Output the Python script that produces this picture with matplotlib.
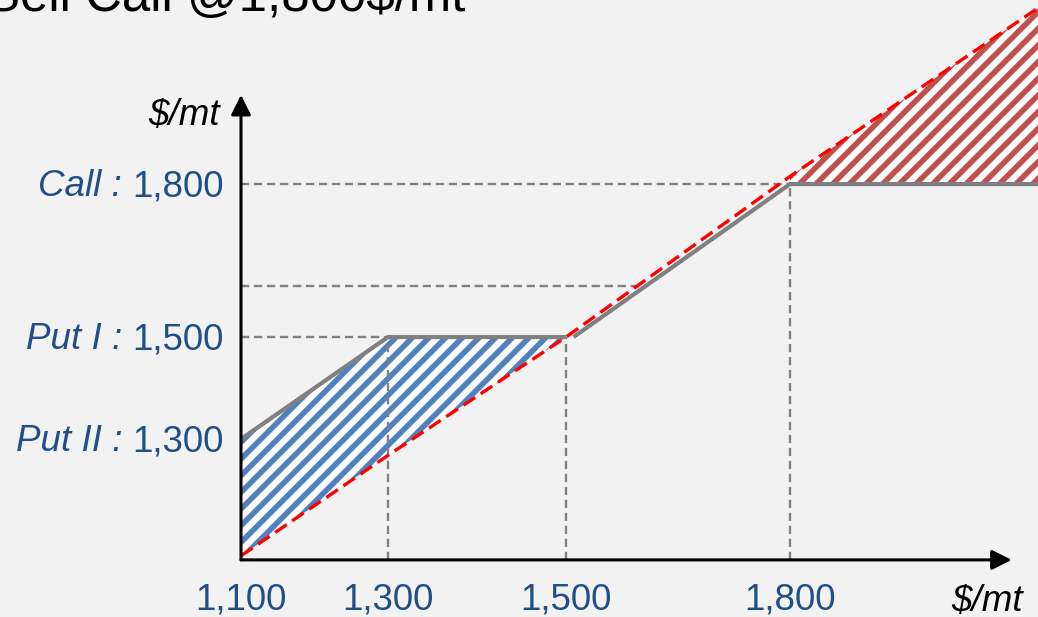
import numpy as np
import matplotlib
matplotlib.use("Agg")
import matplotlib.pyplot as plt

# Strike levels on the price axis and their labels
strikes = [1100, 1300, 1500, 1800]
strike_labels = ["1,100", "1,300", "1,500", "1,800"]
# Schematic spacing of the strikes along the horizontal axis
strike_pos = [241, 388, 566, 790]

# Levels named on the payoff axis
level_names = ["Call :", "Put I :", "Put II :"]
level_values = [1800, 1500, 1300]
level_texts = ["1,800", "1,500", "1,300"]

# Hedged price with the collar (solid grey), two pieces
hedge_low_x = [1100, 1300, 1500]
hedge_low_y = [1300, 1500, 1500]
hedge_high_x = [1510, 1800, 2140]
hedge_high_y = [1500, 1800, 1800]

# Unhedged market price (red dashed)
market_x = [1100, 1300, 1500, 1800, 2140]
market_y = [1071, 1268, 1500, 1815, 2153]

# Unlabelled reference level
mid_level = 1600

# Axis frame
origin_y = 1063
y_tip = 1975
x_tip = 2097

title = "Sell Call @1,800$/mt"
unit = "$/mt"

BG = "#F2F2F2"
GREY = "#808080"
RED = "#FF0000"
NAVY = "#1F4E89"
BLUE_HATCH = "#4F81BD"
RED_HATCH = "#C0504D"
FONT = "Liberation Sans"

plt.rcParams["hatch.linewidth"] = 4.0
plt.rcParams["font.family"] = [FONT, "DejaVu Sans"]


def _slopes():
    lo = (strike_pos[1] - strike_pos[0]) / (strikes[1] - strikes[0])
    hi = (strike_pos[-1] - strike_pos[-2]) / (strikes[-1] - strikes[-2])
    return lo, hi


def to_pos(v):
    v = np.asarray(v, dtype=float)
    lo, hi = _slopes()
    p = np.interp(v, strikes, strike_pos)
    p = np.where(v < strikes[0], strike_pos[0] + (v - strikes[0]) * lo, p)
    p = np.where(v > strikes[-1], strike_pos[-1] + (v - strikes[-1]) * hi, p)
    return p


def from_pos(p):
    p = np.asarray(p, dtype=float)
    lo, hi = _slopes()
    v = np.interp(p, strike_pos, strikes)
    v = np.where(p < strike_pos[0], strikes[0] + (p - strike_pos[0]) / lo, v)
    v = np.where(p > strike_pos[-1], strikes[-1] + (p - strike_pos[-1]) / hi, v)
    return v


W, H = 1038, 617
fig = plt.figure(figsize=(W / 100, H / 100), dpi=100, facecolor=BG)
ax = fig.add_axes([0, 0, 1, 1], facecolor=BG)
ax.set_xscale("function", functions=(to_pos, from_pos))
ax.set_xlim(float(from_pos(0)), float(from_pos(W)))
ax.set_ylim(951, 2161)
ax.axis("off")

# Hatched gain / give-up areas
lower_blue = np.interp(hedge_low_x, market_x, market_y)
ax.fill_between(hedge_low_x, lower_blue, hedge_low_y, facecolor="white",
                edgecolor=BLUE_HATCH, hatch="//", linewidth=0, zorder=1)
red_x = [strikes[-1], market_x[-1]]
ax.fill_between(red_x, [hedge_high_y[-1]] * 2, np.interp(red_x, market_x, market_y),
                facecolor="white", edgecolor=RED_HATCH, hatch="//",
                linewidth=0, zorder=1)

# Dashed guide lines
guide = dict(color=GREY, lw=1.7, linestyle=(0, (3.5, 2)), zorder=2)
ax.plot([strikes[0], strikes[3]], [level_values[0]] * 2, **guide)
ax.plot([strikes[0], mid_level], [mid_level] * 2, **guide)
ax.plot([strikes[0], strikes[1]], [level_values[1]] * 2, **guide)
for s, top in zip(strikes[1:], [1500, 1500, 1800]):
    ax.plot([s, s], [origin_y, top], **guide)

# Hedged price
ax.plot(hedge_low_x, hedge_low_y, color=GREY, lw=3, solid_capstyle="butt",
        solid_joinstyle="miter", zorder=3)
ax.plot(hedge_high_x, hedge_high_y, color=GREY, lw=3, solid_capstyle="butt",
        solid_joinstyle="miter", zorder=3)

# Market price
ax.plot(market_x, market_y, color=RED, lw=2.4, linestyle=(0, (4.2, 2.0)), zorder=4)

# Axes with arrow heads
arrow = dict(arrowstyle="-|>,head_length=0.6,head_width=0.3", color="black",
             lw=2.2, shrinkA=0, shrinkB=0, mutation_scale=20)
ax.annotate("", xy=(strikes[0], y_tip), xytext=(strikes[0], origin_y),
            arrowprops=arrow, zorder=5)
ax.annotate("", xy=(x_tip, origin_y), xytext=(strikes[0], origin_y),
            arrowprops=arrow, zorder=5)

# Strike labels under the horizontal axis
for s, lab in zip(strikes, strike_labels):
    ax.annotate(lab, xy=(s, origin_y), xytext=(0, -50), textcoords="offset pixels",
                ha="center", va="baseline", fontsize=26.5, color=NAVY)

# Level labels left of the vertical axis
for name, val, txt in zip(level_names, level_values, level_texts):
    num = ax.annotate(txt, xy=(strikes[0], val), xytext=(-17.5, -12),
                      textcoords="offset pixels", ha="right", va="baseline",
                      fontsize=26.5, color=NAVY)
    ax.annotate(name, xy=(0, 0), xycoords=num, xytext=(-10, 0),
                textcoords="offset pixels", ha="right", va="bottom",
                fontsize=26.5, color=NAVY, style="italic")

# Units
fig.text(220 / W, 1 - 125 / H, unit, ha="right", va="baseline",
         fontsize=26.5, style="italic", color="black")
fig.text(1023 / W, 1 - 611 / H, unit, ha="right", va="baseline",
         fontsize=26.5, style="italic", color="black")

# Title, partly above the top edge
fig.text(-13.5 / W, 1 - 10.5 / H, title, ha="left", va="baseline",
         fontsize=36.7, color="black")

fig.savefig("out.png", dpi=100, facecolor=BG)
